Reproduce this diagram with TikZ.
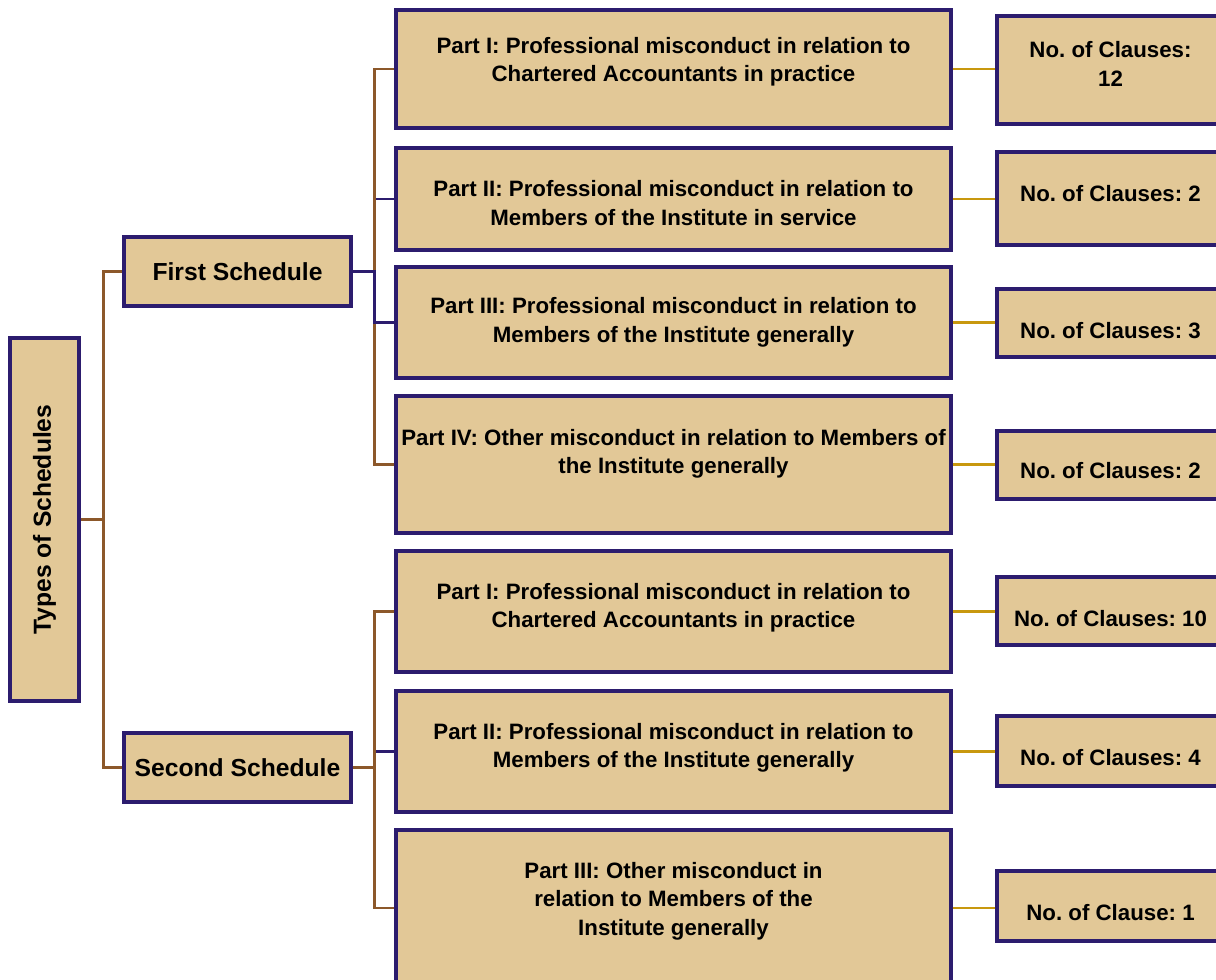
\documentclass[tikz,border=0pt]{standalone}
\usepackage{fontspec}
\setmainfont{Liberation Sans}
\frenchspacing
\definecolor{boxfill}{RGB}{226,200,151}
\definecolor{boxline}{RGB}{44,28,110}
\definecolor{elbowbrown}{RGB}{140,88,42}
\definecolor{clausegold}{RGB}{200,152,14}
\tikzset{
  sz/.style 2 args={minimum width=#1*0.75pt, minimum height=#2*0.75pt},
  schedbox/.style={draw=boxline, fill=boxfill, line width=2.3pt, inner sep=0pt, align=center,
    font=\fontsize{18.5}{22}\selectfont\bfseries},
  partbox/.style={schedbox, font=\fontsize{16.7}{21.4}\selectfont\bfseries},
  clausebox/.style={partbox},
  brownline/.style={draw=elbowbrown, line width=2pt},
  navyline/.style={draw=boxline, line width=2pt},
  goldline/.style={draw=clausegold, line width=2pt}
}
\begin{document}
\begin{tikzpicture}[x=0.75pt, y=-0.75pt]
  \useasboundingbox (0,0) rectangle (1216,979);
  \clip (0,0) rectangle (1216,979);
  % root and schedules
  \node[schedbox, sz={69}{363}] (types) at (44.5,519.5) {\rotatebox{90}{Types of Schedules}};
  \node[schedbox, sz={227}{69}] (first) at (237.5,271.5) {First Schedule};
  \node[schedbox, sz={227}{69}] (second) at (237.5,767.5) {Second Schedule};
  % parts of the first schedule
  \node[partbox, sz={555}{118}, text depth=14.1pt] (f1) at (673.5,69) {Part I: Professional misconduct in relation to\\Chartered Accountants in practice};
  \node[partbox, sz={555}{102}, text height=39.8pt] (f2) at (673.5,199) {Part II: Professional misconduct in relation to\\Members of the Institute in service};
  \node[partbox, sz={555}{111}] (f3) at (673.5,322.5) {Part III: Professional misconduct in relation to\\Members of the Institute generally};
  \node[partbox, sz={555}{137}, text depth=19.4pt] (f4) at (673.5,464.5) {Part IV: Other misconduct in relation to Members of\\the Institute generally};
  % parts of the second schedule
  \node[partbox, sz={555}{121}, text depth=8.9pt] (s1) at (673.5,611.5) {Part I: Professional misconduct in relation to\\Chartered Accountants in practice};
  \node[partbox, sz={555}{121}, text depth=8.9pt] (s2) at (673.5,751.5) {Part II: Professional misconduct in relation to\\Members of the Institute generally};
  \node[partbox, sz={555}{156}, text depth=14.1pt] (s3) at (673.5,908) {Part III: Other misconduct in\\relation to Members of the\\Institute generally};
  % clause counts
  \node[clausebox, sz={227}{108}, text depth=9pt] (c1) at (1110.5,70) {No. of Clauses:\\12};
  \node[clausebox, sz={227}{93}, text depth=7.5pt] (c2) at (1110.5,198.5) {No. of Clauses: 2};
  \node[clausebox, sz={227}{68}, text height=22.9pt] (c3) at (1110.5,323) {No. of Clauses: 3};
  \node[clausebox, sz={227}{68}, text height=19.9pt] (c4) at (1110.5,465) {No. of Clauses: 2};
  \node[clausebox, sz={227}{68}, text height=22.9pt] (c5) at (1110.5,611) {No. of Clauses: 10};
  \node[clausebox, sz={227}{70}, text height=21.4pt] (c6) at (1110.5,751) {No. of Clauses: 4};
  \node[clausebox, sz={227}{70}, text height=21.4pt] (c7) at (1110.5,906) {No. of Clause: 1};
  % elbow connectors
  \draw[brownline] (types.east) -- ++(23,0) |- (first.west);
  \draw[brownline] (types.east) -- ++(23,0) |- (second.west);
  \draw[navyline] (first.east) -- ++(22,0) |- (f2.west);
  \draw[brownline] (first.east) -- ++(22,0) |- (f1.west);
  \draw[brownline] (first.east) -- ++(22,0) |- (f4.west);
  \draw[navyline] (first.east) -- ++(22,0) |- (f3.west);
  \draw[navyline] (second.east) -- ++(22,0) |- (s2.west);
  \draw[brownline] (second.east) -- ++(22,0) |- (s1.west);
  \draw[brownline] (second.east) -- ++(22,0) |- (s3.west);
  % part to clause links
  \foreach \p/\c in {f1/c1,f2/c2,f3/c3,f4/c4,s1/c5,s2/c6,s3/c7}
    \draw[goldline] (\p.east) -- (\p.east -| \c.west);
\end{tikzpicture}
\end{document}
